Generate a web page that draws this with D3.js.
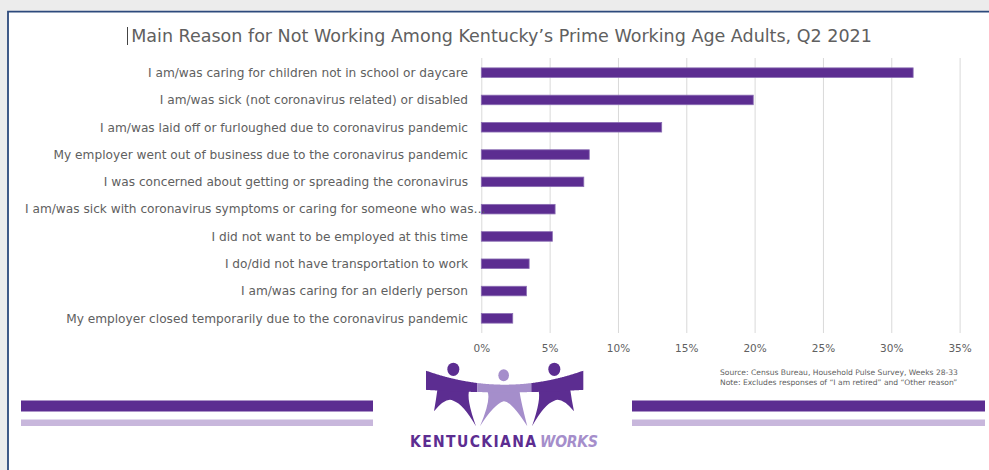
<!DOCTYPE html>
<html>
<head>
<meta charset="utf-8">
<script src="https://cdn.jsdelivr.net/npm/d3@7"></script>
<style>
  html, body { margin: 0; padding: 0; background: #ffffff; }
  svg { display: block; }
</style>
</head>
<body>
<svg id="chart" width="989" height="470"></svg>
<script>
// Reasons for not working, share of prime working age adults (percent)
const categories = [
  "I am/was caring for children not in school or daycare",
  "I am/was sick (not coronavirus related) or disabled",
  "I am/was laid off or furloughed due to coronavirus pandemic",
  "My employer went out of business due to the coronavirus pandemic",
  "I was concerned about getting or spreading the coronavirus",
  "I am/was sick with coronavirus symptoms or caring for someone who was…",
  "I did not want to be employed at this time",
  "I do/did not have transportation to work",
  "I am/was caring for an elderly person",
  "My employer closed temporarily due to the coronavirus pandemic"
];
const values = [31.6, 19.9, 13.2, 7.9, 7.5, 5.4, 5.2, 3.5, 3.3, 2.3];
const tickValues = [0, 5, 10, 15, 20, 25, 30, 35];
const titleText = "Main Reason for Not Working Among Kentucky\u2019s Prime Working Age Adults, Q2 2021";
const sourceLines = [
  "Source: Census Bureau, Household Pulse Survey, Weeks 28-33",
  "Note: Excludes responses of \u201CI am retired\u201D and \u201COther reason\u201D"
];

const W = 989, H = 470;
const FONT = "'DejaVu Sans', 'Open Sans', sans-serif";
const DARK = "#5c2d91";
const LIGHT = "#c8b7dc";
const MID = "#a58ecb";
const TEXT = "#606060";

const svg = d3.select("#chart");

// Slide background with the frame edge
svg.append("rect").attr("width", W).attr("height", H).attr("fill", "#ececec");
svg.append("rect").attr("x", 8).attr("y", 11.5).attr("width", W - 8).attr("height", H - 11.5).attr("fill", "#ffffff");
svg.append("path")
  .attr("d", `M8,${H} V11.7 H${W}`)
  .attr("fill", "none").attr("stroke", "#2d4a7c").attr("stroke-width", 1.8);

// Fit a text element's font-size so its rendered width equals target
function fitFont(sel, target, base) {
  sel.attr("font-size", base);
  const w = sel.node().getComputedTextLength();
  const size = base * target / w;
  sel.attr("font-size", size);
  return size;
}

// Title
const title = svg.append("text")
  .attr("x", 501.5).attr("y", 42)
  .attr("text-anchor", "middle")
  .attr("font-family", FONT).attr("fill", TEXT)
  .text(titleText);
fitFont(title, 741, 18);
// text caret before the title
svg.append("line").attr("x1", 127.5).attr("x2", 127.5).attr("y1", 27).attr("y2", 45)
  .attr("stroke", "#444").attr("stroke-width", 1);

// Scales
const x = d3.scaleLinear().domain([0, 35]).range([481.3, 959.6]);
const y = d3.scaleBand().domain(categories).range([59, 332])
  .paddingInner(0.65).paddingOuter(0.325);

// Gridlines
const grid = svg.append("g")
  .attr("transform", `translate(0,333)`)
  .call(d3.axisBottom(x).tickValues(tickValues).tickSize(-275).tickFormat(""));
grid.select(".domain").remove();
grid.selectAll(".tick line").attr("stroke", "#d9d9d9").attr("stroke-width", 1);

// Tick labels
const axis = svg.append("g")
  .attr("transform", `translate(0,342)`)
  .call(d3.axisBottom(x).tickValues(tickValues).tickSize(0).tickFormat(d => d + "%"));
axis.select(".domain").remove();
axis.selectAll("text")
  .attr("font-family", FONT).attr("font-size", 10.5).attr("fill", TEXT).attr("dy", "0.71em");

// Bars
svg.append("g").selectAll("rect")
  .data(values)
  .join("rect")
  .attr("x", x(0))
  .attr("y", (d, i) => y(categories[i]))
  .attr("width", d => x(d) - x(0))
  .attr("height", y.bandwidth())
  .attr("fill", DARK)
  .attr("stroke", "#8a6db3").attr("stroke-width", 0.8);

// Category labels
const labels = svg.append("g").selectAll("text")
  .data(categories)
  .join("text")
  .attr("x", 468)
  .attr("y", d => y(d) + y.bandwidth() / 2)
  .attr("dy", "0.35em")
  .attr("text-anchor", "end")
  .attr("font-family", FONT).attr("fill", TEXT)
  .text(d => d);
const refLabel = labels.filter(d => d === categories[3]);
const labelSize = fitFont(refLabel, 415, 12);
labels.attr("font-size", labelSize);
labels.each(function () {
  const w = this.getComputedTextLength();
  if (w > 443) d3.select(this).attr("x", 25).attr("text-anchor", "start");
});

// Source notes
const notes = svg.append("g").selectAll("text")
  .data(sourceLines)
  .join("text")
  .attr("x", 720)
  .attr("y", (d, i) => 374.5 + i * 10.5)
  .attr("font-family", FONT).attr("fill", TEXT)
  .text(d => d);
const noteSize = fitFont(notes.filter((d, i) => i === 0), 238, 8);
notes.attr("font-size", noteSize);

// Decorative bands either side of the logo
const bands = [
  { x0: 21, x1: 373, y0: 400.5, h: 11, c: DARK },
  { x0: 21, x1: 373, y0: 419.5, h: 6.5, c: LIGHT },
  { x0: 632, x1: 985, y0: 400.5, h: 11, c: DARK },
  { x0: 632, x1: 985, y0: 419.5, h: 6.5, c: LIGHT }
];
svg.append("g").selectAll("rect").data(bands).join("rect")
  .attr("x", d => d.x0).attr("y", d => d.y0)
  .attr("width", d => d.x1 - d.x0).attr("height", d => d.h)
  .attr("fill", d => d.c);

// Logo: three linked figures (drawn in a 3x local grid)
const logo = svg.append("g").attr("transform", "translate(420,358) scale(0.3333)");
const topEdge = xx => 80 - (xx - 254) * (xx - 254) * 0.000754;
const botEdge = xx => 103 - (xx - 254) * (xx - 254) * 0.000134;
function bandSeg(a, b) {
  const xs = d3.range(a, b + 0.01, 2);
  const pts = xs.map(v => [v, topEdge(v)]).concat(xs.slice().reverse().map(v => [v, botEdge(v)]));
  return d3.line()(pts) + "Z";
}
// figure bodies (legs)
function body(cx, yTop, fL, fR, crotch) {
  return `M${cx - 48},${yTop}
    Q${cx - 52},${yTop + 30} ${fL[0]},${fL[1]}
    Q${cx - 22},${crotch - 12} ${cx},${crotch}
    Q${cx + 30},${crotch + 10} ${fR[0]},${fR[1]}
    Q${cx + 38},${yTop + 25} ${cx + 48},${yTop}Z`;
}
logo.append("path").attr("d", body(100, 96, [42, 160], [168, 205], 128)).attr("fill", DARK);
logo.append("path").attr("d", `M${251 + 48},102 Q${251 + 52},132 322,205 Q${251 + 22},128 251,130 Q${251 - 30},140 180,205 Q${251 - 38},127 ${251 - 48},102Z`).attr("fill", MID);
logo.append("path").attr("d", `M${403 + 48},96 Q${403 + 52},126 462,160 Q${403 + 22},116 403,128 Q${403 - 30},138 336,205 Q${403 - 38},121 ${403 - 48},96Z`).attr("fill", DARK);
// linked arms
logo.append("path").attr("d", bandSeg(18, 172)).attr("fill", DARK);
logo.append("path").attr("d", bandSeg(172, 334)).attr("fill", MID);
logo.append("path").attr("d", bandSeg(334, 490)).attr("fill", DARK);
// heads
logo.append("ellipse").attr("cx", 100).attr("cy", 34).attr("rx", 18).attr("ry", 20).attr("fill", DARK);
logo.append("ellipse").attr("cx", 251).attr("cy", 52).attr("rx", 16).attr("ry", 18).attr("fill", MID);
logo.append("ellipse").attr("cx", 403).attr("cy", 34).attr("rx", 18).attr("ry", 20).attr("fill", DARK);

// Wordmark
svg.append("text")
  .attr("x", 410).attr("y", 446.5)
  .attr("font-family", "'DejaVu Sans Condensed', 'DejaVu Sans', sans-serif")
  .attr("font-weight", "bold").attr("font-size", 15.5)
  .attr("textLength", 126).attr("lengthAdjust", "spacing")
  .attr("fill", DARK).text("KENTUCKIANA");
svg.append("text")
  .attr("x", 540).attr("y", 446.5)
  .attr("font-family", "'DejaVu Sans Condensed', 'DejaVu Sans', sans-serif")
  .attr("font-weight", "bold").attr("font-style", "italic").attr("font-size", 15.5)
  .attr("textLength", 58).attr("lengthAdjust", "spacing")
  .attr("fill", MID).text("WORKS");
</script>
</body>
</html>
